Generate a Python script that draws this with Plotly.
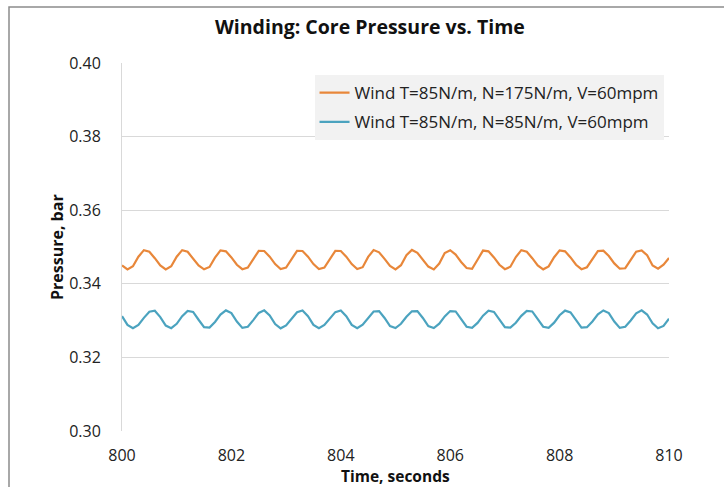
import plotly.graph_objects as go

time_s = [round(800 + 0.1 * i, 1) for i in range(101)]

orange_label = "Wind T=85N/m, N=175N/m, V=60mpm"
blue_label = "Wind T=85N/m, N=85N/m, V=60mpm"

orange_bar = [
    0.34499, 0.34393, 0.34478, 0.34737, 0.34914, 0.34869, 0.34696, 0.34499, 0.34393, 0.34478,
    0.34737, 0.34914, 0.34869, 0.34696, 0.34499, 0.34393, 0.34458, 0.34710, 0.34907, 0.34881,
    0.34717, 0.34517, 0.34397, 0.34441, 0.34683, 0.34897, 0.34891, 0.34737, 0.34535, 0.34403,
    0.34441, 0.34683, 0.34897, 0.34891, 0.34737, 0.34535, 0.34403, 0.34441, 0.34683, 0.34897,
    0.34891, 0.34737, 0.34535, 0.34403, 0.34452, 0.34731, 0.34918, 0.34856, 0.34676, 0.34483,
    0.34391, 0.34506, 0.34779, 0.34920, 0.34842, 0.34655, 0.34468, 0.34390, 0.34550, 0.34837,
    0.34913, 0.34793, 0.34593, 0.34429, 0.34407, 0.34655, 0.34903, 0.34881, 0.34717, 0.34517,
    0.34397, 0.34463, 0.34726, 0.34914, 0.34869, 0.34696, 0.34499, 0.34393, 0.34472, 0.34722,
    0.34908, 0.34881, 0.34717, 0.34517, 0.34397, 0.34450, 0.34681, 0.34889, 0.34900, 0.34756,
    0.34554, 0.34410, 0.34423, 0.34642, 0.34873, 0.34907, 0.34775, 0.34500, 0.34410, 0.34520,
    0.34700,
]

blue_bar = [
    0.33121, 0.32885, 0.32791, 0.32884, 0.33075, 0.33240, 0.33269, 0.33096, 0.32866, 0.32794,
    0.32913, 0.33119, 0.33265, 0.33236, 0.33023, 0.32821, 0.32812, 0.32963, 0.33163, 0.33277,
    0.33204, 0.32974, 0.32802, 0.32834, 0.33014, 0.33208, 0.33279, 0.33143, 0.32905, 0.32790,
    0.32869, 0.33055, 0.33228, 0.33275, 0.33121, 0.32885, 0.32791, 0.32880, 0.33065, 0.33231,
    0.33275, 0.33121, 0.32885, 0.32791, 0.32889, 0.33086, 0.33249, 0.33260, 0.33072, 0.32849,
    0.32797, 0.32913, 0.33103, 0.33252, 0.33260, 0.33072, 0.32849, 0.32798, 0.32918, 0.33115,
    0.33259, 0.33249, 0.33047, 0.32834, 0.32803, 0.32937, 0.33133, 0.33267, 0.33236, 0.33023,
    0.32821, 0.32809, 0.32941, 0.33129, 0.33261, 0.33249, 0.33047, 0.32834, 0.32804, 0.32944,
    0.33145, 0.33272, 0.33221, 0.32998, 0.32810, 0.32820, 0.32975, 0.33169, 0.33277, 0.33204,
    0.32974, 0.32802, 0.32832, 0.33004, 0.33197, 0.33280, 0.33165, 0.32927, 0.32791, 0.32855,
    0.33050,
]

y_ticks = [0.30, 0.32, 0.34, 0.36, 0.38, 0.40]
x_ticks = [800, 802, 804, 806, 808, 810]

FONT = "Open Sans"

fig = go.Figure()
fig.add_trace(go.Scatter(x=time_s, y=orange_bar, mode="lines", name=orange_label,
                         legendgroup="a", line=dict(color="#E8873A", width=2.2)))
fig.add_trace(go.Scatter(x=time_s, y=blue_bar, mode="lines", name=blue_label,
                         legendgroup="b", line=dict(color="#4BA3BF", width=2.2)))

fig.update_layout(
    width=724, height=487,
    margin=dict(l=122, r=55, t=63, b=56),
    paper_bgcolor="white", plot_bgcolor="white",
    font=dict(family=FONT, size=16, color="#222222"),
    title=dict(text="<b>Winding: Core Pressure vs. Time</b>", x=0.511, xanchor="center",
               y=1 - 27 / 487, yanchor="middle",
               font=dict(family=FONT, size=19.5, color="#111111")),
    showlegend=True,
    legend=dict(x=0.99, xanchor="right", y=0.967, yanchor="top",
                bgcolor="#F2F2F2", font=dict(family=FONT, size=17, color="#222222"),
                tracegroupgap=4, itemwidth=30),
    xaxis=dict(range=[800, 810], tickvals=x_ticks, ticktext=[str(v) for v in x_ticks],
               showgrid=False, zeroline=False, showline=False, ticks="",
               ticklabelstandoff=13, tickfont=dict(size=16)),
    yaxis=dict(range=[0.30, 0.40], tickvals=y_ticks, ticktext=[f"{v:.2f}" for v in y_ticks],
               showgrid=True, gridcolor="#D9D9D9", gridwidth=1, zeroline=False,
               showline=True, linecolor="#D9D9D9", linewidth=1, ticks="",
               ticklabelstandoff=17, tickfont=dict(size=16)),
    annotations=[
        dict(text="<b>Time, seconds</b>", xref="paper", yref="paper", x=0.5, y=(431 - 476) / 368,
             xanchor="center", yanchor="middle", showarrow=False,
             font=dict(family=FONT, size=15.5, color="#111111")),
        dict(text="<b>Pressure, bar</b>", xref="paper", yref="paper", x=(57 - 122) / 547,
             y=0.5, xanchor="center", yanchor="middle", textangle=-90, showarrow=False,
             font=dict(family=FONT, size=16, color="#111111")),
    ],
    shapes=[
        dict(type="rect", xref="paper", yref="paper", x0=(9 - 122) / 547, x1=(740 - 122) / 547,
             y0=(431 - 500) / 368, y1=(431 - 7) / 368, line=dict(color="#8C8C8C", width=1.5),
             fillcolor="rgba(0,0,0,0)", layer="below"),
    ],
)

fig.write_html("out.html")
